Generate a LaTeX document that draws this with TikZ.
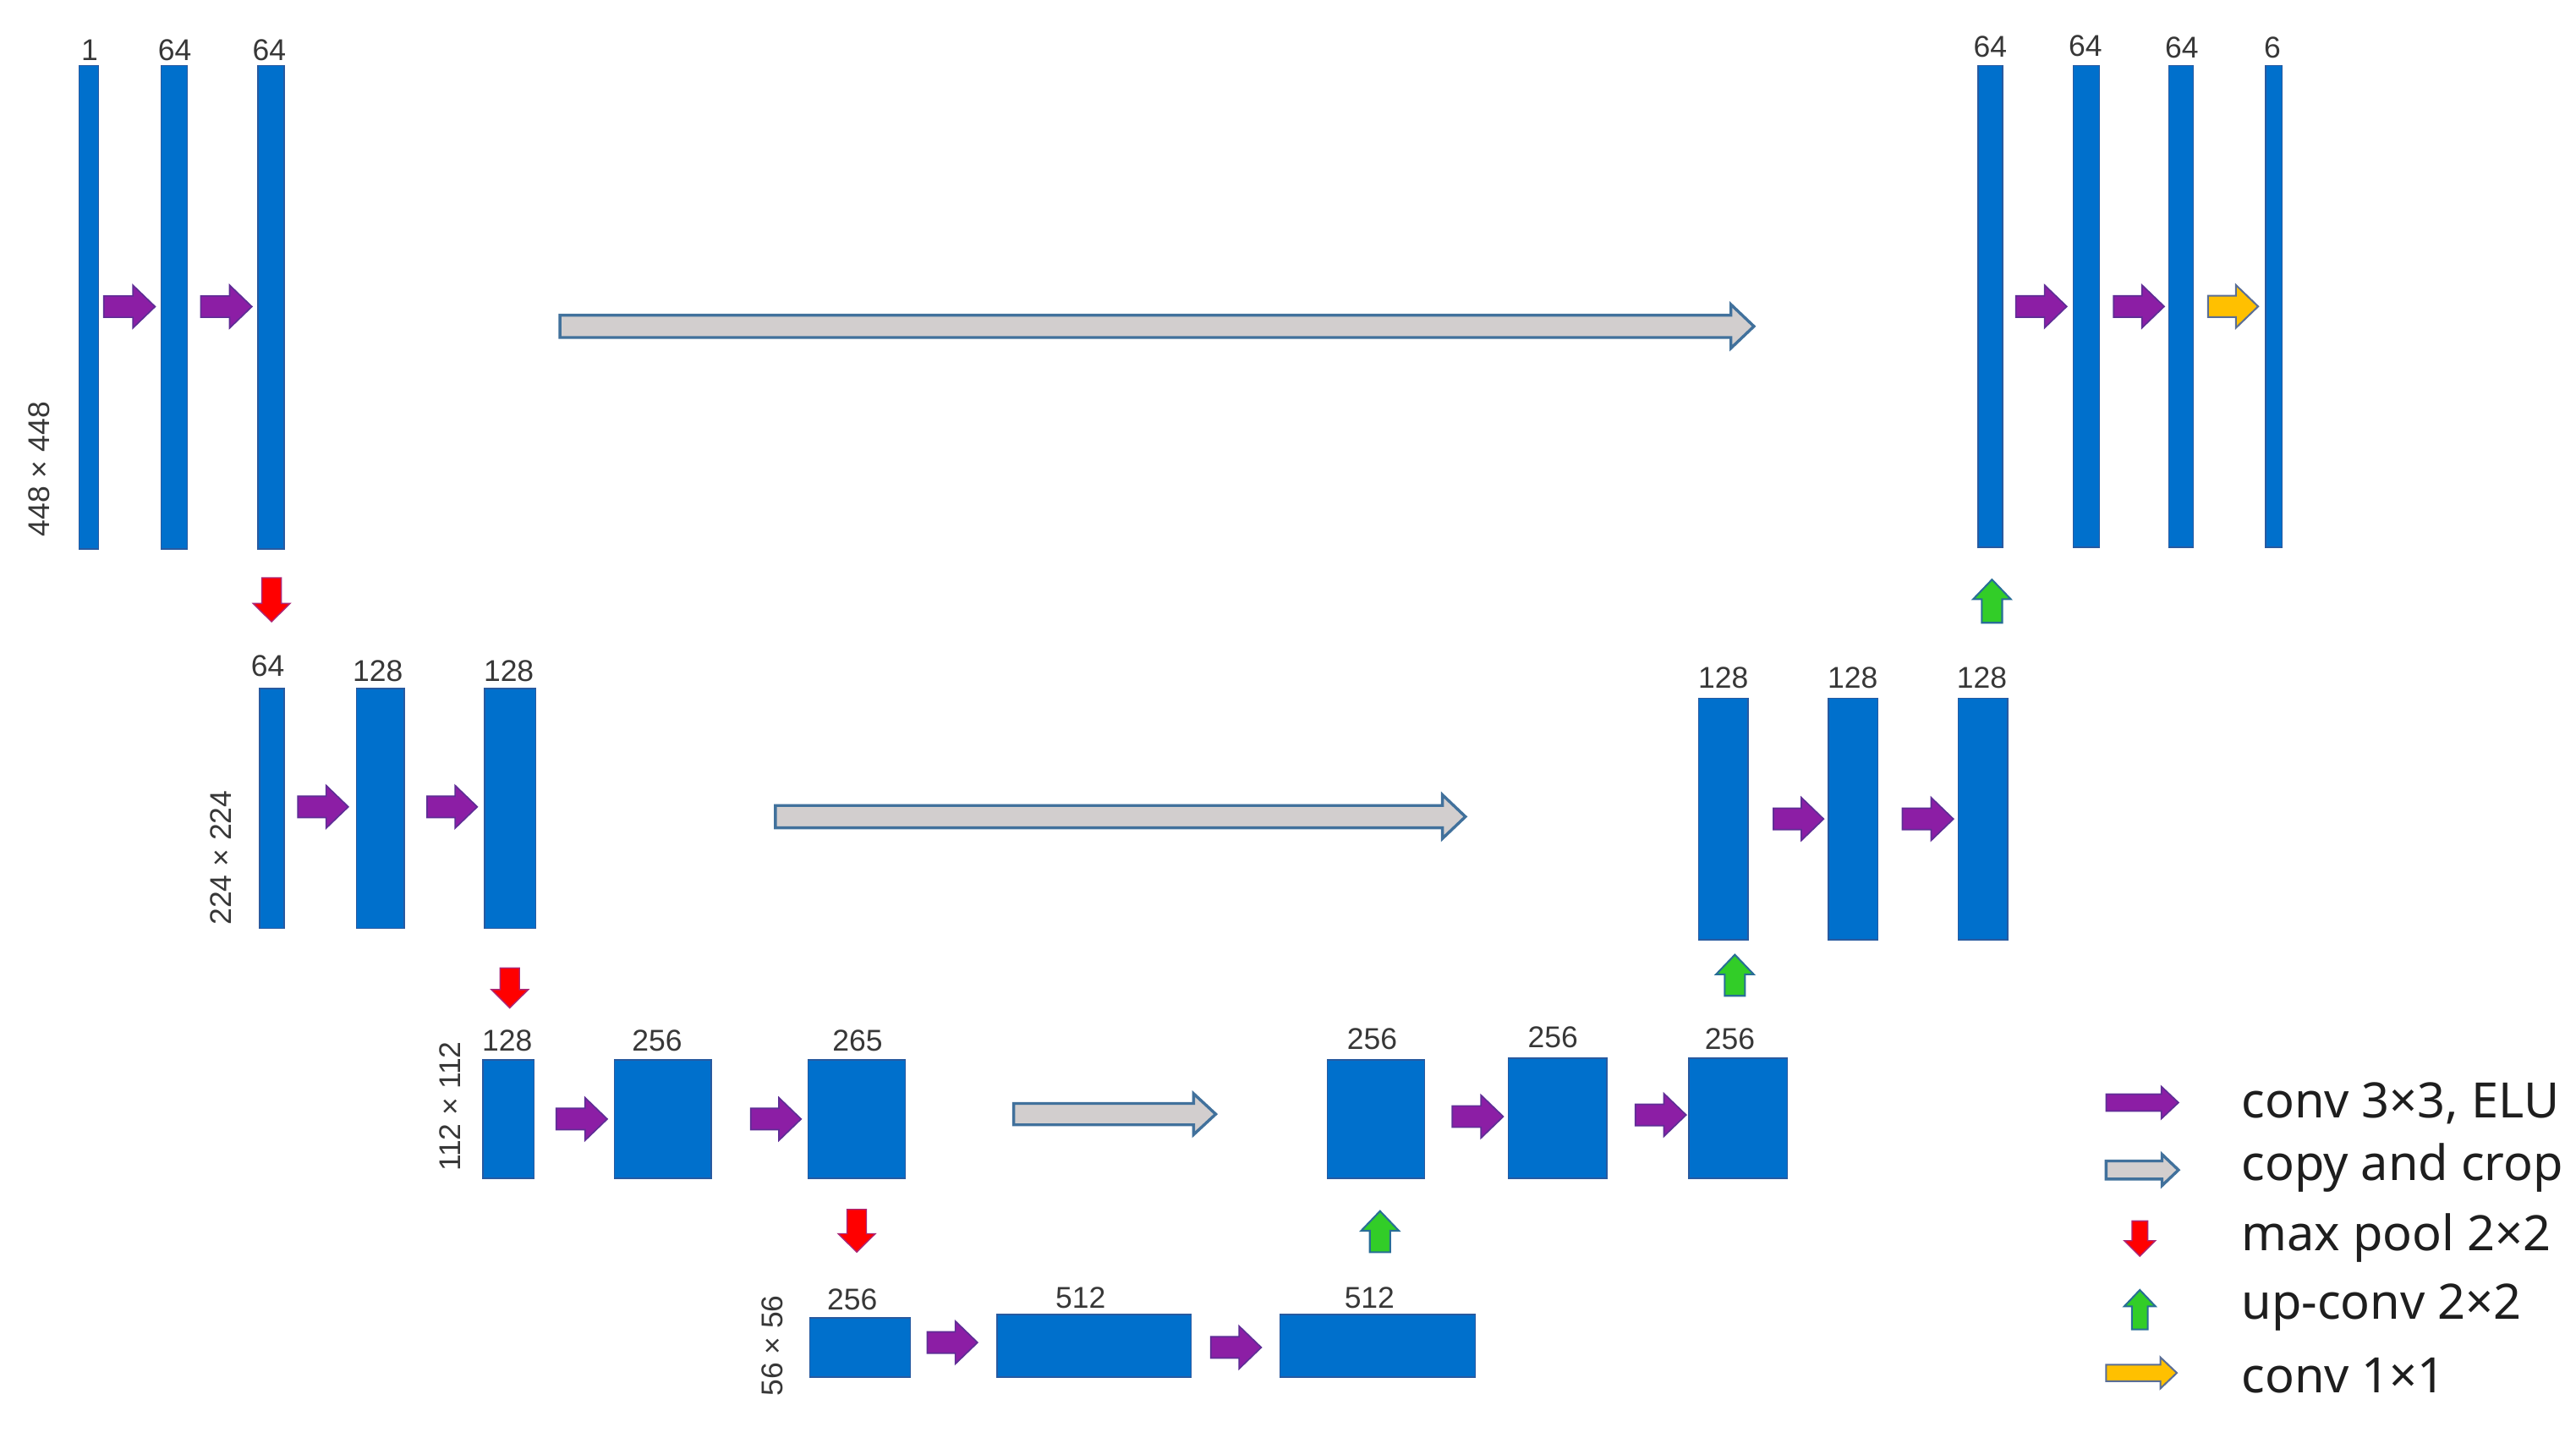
\documentclass[tikz,border=0pt]{standalone}
\usepackage{fontspec}
\setmainfont{Liberation Sans}
\newfontfamily\legfont{Noto Sans}
\usetikzlibrary{calc}
\definecolor{barblue}{RGB}{0,112,204}
\definecolor{baredge}{RGB}{40,90,160}
\definecolor{convp}{RGB}{140,30,165}
\definecolor{convpe}{RGB}{95,45,150}
\definecolor{copyg}{RGB}{210,206,206}
\definecolor{copye}{RGB}{65,113,156}
\definecolor{poolr}{RGB}{255,0,0}
\definecolor{poole}{RGB}{170,40,120}
\definecolor{upg}{RGB}{50,205,40}
\definecolor{upe}{RGB}{40,110,150}
\definecolor{c1o}{RGB}{255,192,0}
\definecolor{c1e}{RGB}{90,110,150}
\definecolor{numtxt}{RGB}{55,55,55}
\definecolor{legtxt}{RGB}{30,30,30}

\newcommand\barrow[6]{%
  \coordinate (tmph) at ($(#3)!#6!(#2)$);
  \draw[#1] ($(#2)!#4!90:(#3)$) -- ($(tmph)!#4!-90:(#2)$) -- ($(tmph)!#5!-90:(#2)$) -- (#3)
    -- ($(tmph)!#5!90:(#2)$) -- ($(tmph)!#4!90:(#2)$) -- ($(#2)!#4!-90:(#3)$) -- cycle;}
\newcommand\ublk[5]{\node[blk, minimum width={(#4-#2)*0.02cm}, minimum height={(#5-#3)*0.02cm}] (#1) at ({(#2+#4)/2},{(#3+#5)/2}) {};}
\newcommand\ulbl[4]{\node[num] (#1) at (#2,#3) {#4};}

\tikzset{
  blk/.style={rectangle, fill=barblue, draw=baredge, line width=0.4pt, inner sep=0pt, outer sep=0pt},
  num/.style={anchor=base, inner sep=0pt, text=numtxt, font=\fontsize{10.4}{12}\selectfont},
  side/.style={anchor=center, inner sep=0pt, rotate=90, text=numtxt, font=\fontsize{10.4}{12}\selectfont},
  leg/.style={anchor=base west, inner sep=0pt, text=legtxt, font=\legfont\fontsize{16.9}{19}\selectfont},
  convst/.style={fill=convp, draw=convpe, line width=0.5pt, line join=miter},
  copyst/.style={fill=copyg, draw=copye, line width=1pt, line join=miter},
  poolst/.style={fill=poolr, draw=poole, line width=0.4pt, line join=miter},
  upst/.style={fill=upg, draw=upe, line width=0.6pt, line join=miter},
  onest/.style={fill=c1o, draw=c1e, line width=0.6pt, line join=miter}
}

\begin{document}
\begin{tikzpicture}[x=0.02cm,y=-0.02cm]
\fill[white] (0,0) rectangle (1568,875);
\useasboundingbox (0,0) rectangle (1568,875);

% ---- bars ----
\ublk{A1}{48}{40}{60}{334}
\ublk{A2}{98}{40}{114}{334}
\ublk{A3}{157}{40}{173}{334}
\ublk{B1}{1204}{40}{1219}{333}
\ublk{B2}{1262}{40}{1278}{333}
\ublk{B3}{1320}{40}{1335}{333}
\ublk{B4}{1379}{40}{1389}{333}
\ublk{C1}{158}{419}{173}{565}
\ublk{C2}{217}{419}{246}{565}
\ublk{C3}{295}{419}{326}{565}
\ublk{D1}{1034}{425}{1064}{572}
\ublk{D2}{1113}{425}{1143}{572}
\ublk{D3}{1192}{425}{1222}{572}
\ublk{E1}{294}{645}{325}{717}
\ublk{E2}{374}{645}{433}{717}
\ublk{E3}{492}{645}{551}{717}
\ublk{F1}{808}{645}{867}{717}
\ublk{F2}{918}{644}{978}{717}
\ublk{F3}{1028}{644}{1088}{717}
\ublk{G1}{493}{802}{554}{838}
\ublk{G2}{607}{800}{725}{838}
\ublk{G3}{779}{800}{898}{838}

% ---- channel labels ----
\ulbl{lA1}{54.6}{36.8}{1}
\ulbl{lA2}{106.4}{36.8}{64}
\ulbl{lA3}{163.9}{36.8}{64}
\ulbl{lB1}{1211.4}{34.5}{64}
\ulbl{lB2}{1269.3}{34}{64}
\ulbl{lB3}{1328}{35.5}{64}
\ulbl{lB4}{1383.2}{35.5}{6}
\ulbl{lC1}{163}{411.8}{64}
\ulbl{lC2}{230}{414.4}{128}
\ulbl{lC3}{309.7}{414.4}{128}
\ulbl{lD1}{1049}{418.7}{128}
\ulbl{lD2}{1127.7}{418.7}{128}
\ulbl{lD3}{1206.3}{418.7}{128}
\ulbl{lE1}{308.7}{639.5}{128}
\ulbl{lE2}{400}{639.5}{256}
\ulbl{lE3}{522}{639.5}{265}
\ulbl{lF1}{835.2}{638.7}{256}
\ulbl{lF2}{945.2}{637.5}{256}
\ulbl{lF3}{1053}{638.7}{256}
\ulbl{lG1}{518.8}{797}{256}
\ulbl{lG2}{657.7}{796.2}{512}
\ulbl{lG3}{833.6}{796.2}{512}

% ---- resolution labels ----
\node[side] (s1) at (24,285.5) {448 × 448};
\node[side] (s2) at (134.6,522) {224 × 224};
\node[side] (s3) at (274,673.4) {112 × 112};
\node[side] (s4) at (470,819) {56 × 56};

% ---- conv 3x3 arrows ----
\coordinate (pa1s) at (63.2,186.6);  \coordinate (pa1e) at (94.4,186.6);
\coordinate (pa2s) at (122.2,186.6); \coordinate (pa2e) at (153.3,186.6);
\coordinate (pb1s) at (1227,186.5);  \coordinate (pb1e) at (1258,186.5);
\coordinate (pb2s) at (1286.5,186.5);\coordinate (pb2e) at (1317.3,186.5);
\coordinate (pc1s) at (181.3,491);   \coordinate (pc1e) at (212,491);
\coordinate (pc2s) at (260,491);     \coordinate (pc2e) at (290.5,491);
\coordinate (pd1s) at (1079.5,498.4);\coordinate (pd1e) at (1110,498.4);
\coordinate (pd2s) at (1158,498.4);  \coordinate (pd2e) at (1189,498.4);
\coordinate (pe1s) at (338.6,681);   \coordinate (pe1e) at (369.6,681);
\coordinate (pe2s) at (457,681);     \coordinate (pe2e) at (487.6,681);
\coordinate (pf1s) at (884,679.5);   \coordinate (pf1e) at (915,679.5);
\coordinate (pf2s) at (995.4,678.5); \coordinate (pf2e) at (1026.3,678.5);
\coordinate (pg1s) at (564.4,817);   \coordinate (pg1e) at (595,817);
\coordinate (pg2s) at (737,820);     \coordinate (pg2e) at (767.7,820);
\foreach \n in {pa1,pa2,pb1,pb2,pc1,pc2,pd1,pd2,pe1,pe2,pf1,pf2,pg1,pg2}{
  \barrow{convst}{\n s}{\n e}{0.13cm}{0.26cm}{0.27cm}
}

% ---- conv 1x1 ----
\coordinate (ob1s) at (1344,186.5); \coordinate (ob1e) at (1374.5,186.5);
\barrow{onest}{ob1s}{ob1e}{0.13cm}{0.26cm}{0.27cm}

% ---- copy and crop ----
\coordinate (cp1s) at (340.8,198.6); \coordinate (cp1e) at (1067.6,198.6);
\coordinate (cp2s) at (472,497);     \coordinate (cp2e) at (892,497);
\coordinate (cp3s) at (617,678);     \coordinate (cp3e) at (740,678);
\barrow{copyst}{cp1s}{cp1e}{0.136cm}{0.266cm}{0.28cm}
\barrow{copyst}{cp2s}{cp2e}{0.136cm}{0.266cm}{0.28cm}
\barrow{copyst}{cp3s}{cp3e}{0.13cm}{0.25cm}{0.27cm}

% ---- max pool ----
\coordinate (mp1s) at (165.3,351.6); \coordinate (mp1e) at (165.3,378.4);
\coordinate (mp2s) at (310.3,589);   \coordinate (mp2e) at (310.3,613.4);
\coordinate (mp3s) at (521.5,736);   \coordinate (mp3e) at (521.5,762);
\foreach \n in {mp1,mp2,mp3}{
  \barrow{poolst}{\n s}{\n e}{0.118cm}{0.226cm}{0.224cm}
}

% ---- up-conv ----
\coordinate (uc1s) at (1212.5,379); \coordinate (uc1e) at (1212.5,352.7);
\coordinate (uc2s) at (1056,606);   \coordinate (uc2e) at (1056,581);
\coordinate (uc3s) at (840,762);    \coordinate (uc3e) at (840,737);
\foreach \n in {uc1,uc2,uc3}{
  \barrow{upst}{\n s}{\n e}{0.124cm}{0.23cm}{0.24cm}
}

% ---- legend ----
\coordinate (lg1s) at (1282,671);  \coordinate (lg1e) at (1326,671);
\coordinate (lg2s) at (1282,712);  \coordinate (lg2e) at (1326,712);
\coordinate (lg3s) at (1302.5,743);\coordinate (lg3e) at (1302.5,764.5);
\coordinate (lg4s) at (1302.5,809);\coordinate (lg4e) at (1302.5,785);
\coordinate (lg5s) at (1282,835.5);\coordinate (lg5e) at (1325,835.5);
\barrow{convst}{lg1s}{lg1e}{0.104cm}{0.196cm}{0.208cm}
\barrow{copyst}{lg2s}{lg2e}{0.11cm}{0.19cm}{0.2cm}
\barrow{poolst}{lg3s}{lg3e}{0.096cm}{0.19cm}{0.19cm}
\barrow{upst}{lg4s}{lg4e}{0.096cm}{0.19cm}{0.2cm}
\barrow{onest}{lg5s}{lg5e}{0.1cm}{0.19cm}{0.2cm}
\node[leg] (t1) at (1364,680.5) {conv 3×3, ELU};
\node[leg] (t2) at (1364,718.6) {copy and crop};
\node[leg] (t3) at (1364,761) {max pool 2×2};
\node[leg] (t4) at (1364,802.6) {up-conv 2×2};
\node[leg] (t5) at (1364,847.7) {conv 1×1};
\end{tikzpicture}
\end{document}
